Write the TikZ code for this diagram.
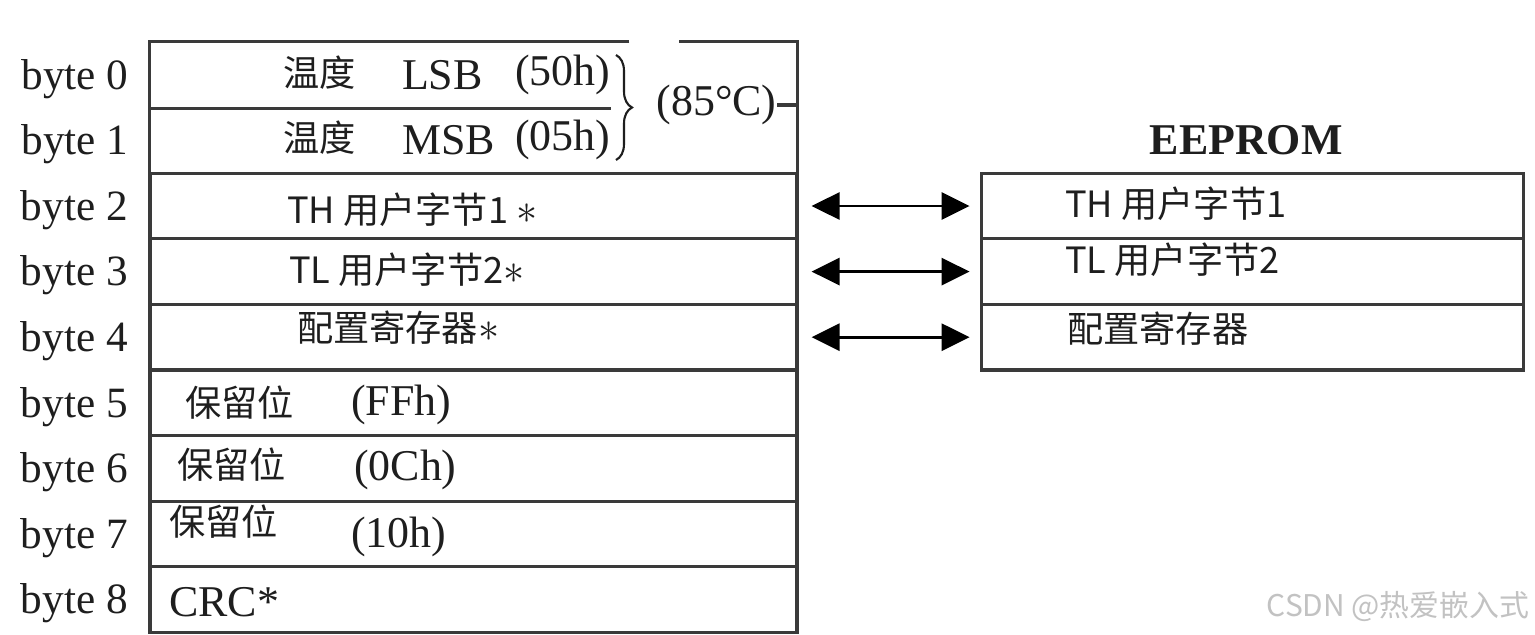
\documentclass[tikz,border=0pt]{standalone}
\usepackage{fontspec}
\setmainfont{Liberation Serif}
\newfontfamily\cjk{Noto Sans CJK SC}
\usetikzlibrary{arrows.meta,positioning,decorations.pathreplacing,calc}
\definecolor{rulegray}{HTML}{3A3A3A}
\definecolor{textdark}{HTML}{1E1E1E}
\definecolor{markgray}{HTML}{C2C2C2}
\tikzset{
  cell/.style={
    rectangle, draw=rulegray, line width=0.9pt,
    minimum width=6.47cm, minimum height=0.656cm, inner sep=0pt
  },
  opencell/.style={
    rectangle, minimum width=6.47cm, minimum height=0.656cm, inner sep=0pt
  },
  romcell/.style={cell, minimum width=5.42cm},
  rule/.style={draw=rulegray, line width=0.9pt},
  bytelab/.style={font=\fontsize{12.3}{14}\selectfont, text=textdark, inner sep=0pt, yshift=-0.04cm},
  serif/.style={font=\fontsize{12.5}{14}\selectfont, text=textdark, inner sep=0pt},
  cjktext/.style={font=\cjk\fontsize{10.3}{12}\selectfont, text=textdark, inner sep=0pt},
  title/.style={font=\bfseries\fontsize{12.5}{14}\selectfont, text=textdark, inner sep=0pt},
  link/.style={{Triangle[length=2.8mm,width=2.7mm]}-{Triangle[length=2.8mm,width=2.7mm]},
    line width=0.85pt, draw=black, shorten <=1.3mm, shorten >=1mm},
  wmark/.style={font=\cjk\fontsize{8.5}{10}\selectfont, text=markgray, inner sep=0pt}
}
\newcommand{\userflag}{{\fontsize{13}{14}\selectfont$\ast$}}

\begin{document}
\begin{tikzpicture}
\useasboundingbox[fill=white] (0,0) rectangle (15.35,-6.35);
% scratchpad rows
\node[opencell] (r0) at (4.735,-0.748) {};
\node[opencell] (r1) at (4.735,-1.404) {};
\node[cell] (r2) at (4.735,-2.060) {};
\node[cell] (r3) at (4.735,-2.716) {};
\node[cell] (r4) at (4.735,-3.372) {};
\node[cell] (r5) at (4.735,-4.028) {};
\node[cell] (r6) at (4.735,-4.684) {};
\node[cell] (r7) at (4.735,-5.340) {};
\node[cell] (r8) at (4.735,-5.996) {};
\draw[rule] ($(r0.north west)+(4.8,0)$) -- (r0.north west) -- (r1.south west) -- (r1.south east) -- (r0.north east) -- ($(r0.north east)+(-1.19,0)$);
\draw[rule] (r0.south west) -- ($(r0.south west)+(4.62,0)$);
% eeprom rows
\node[romcell, right=1.81cm of r2] (e2) {};
\node[romcell, right=1.81cm of r3] (e3) {};
\node[romcell, right=1.81cm of r4] (e4) {};
\node[title, above=0.16cm of e2.north, xshift=-0.06cm] (eeprom) {EEPROM};
% byte labels
\node[bytelab, left=0.2cm of r0.west] (b0) {byte 0};
\node[bytelab, left=0.2cm of r1.west] (b1) {byte 1};
\node[bytelab, left=0.2cm of r2.west] (b2) {byte 2};
\node[bytelab, left=0.2cm of r3.west] (b3) {byte 3};
\node[bytelab, left=0.2cm of r4.west] (b4) {byte 4};
\node[bytelab, left=0.2cm of r5.west] (b5) {byte 5};
\node[bytelab, left=0.2cm of r6.west] (b6) {byte 6};
\node[bytelab, left=0.2cm of r7.west] (b7) {byte 7};
\node[bytelab, left=0.2cm of r8.west] (b8) {byte 8};
% row contents
\node[cjktext, right=1.33cm of r0.west, yshift=0.02cm] (t0a) {温度};
\node[serif, right=2.52cm of r0.west] (t0b) {LSB};
\node[serif, right=3.65cm of r0.west] (t0c) {(50h)};
\node[cjktext, right=1.33cm of r1.west, yshift=0.03cm] (t1a) {温度};
\node[serif, right=2.52cm of r1.west] (t1b) {MSB};
\node[serif, right=3.65cm of r1.west] (t1c) {(05h)};
\node[cjktext, right=1.38cm of r2.west, yshift=-0.04cm] (t2) {TH 用户字节1 \userflag};
\node[cjktext, right=1.40cm of r3.west, yshift=0.02cm] (t3) {TL 用户字节2\userflag};
\node[cjktext, right=1.48cm of r4.west, yshift=0.10cm] (t4) {配置寄存器\userflag};
\node[cjktext, right=0.36cm of r5.west] (t5a) {保留位};
\node[serif, right=2.02cm of r5.west, yshift=-0.02cm] (t5b) {(FFh)};
\node[cjktext, right=0.28cm of r6.west, yshift=0.04cm] (t6a) {保留位};
\node[serif, right=2.05cm of r6.west, yshift=-0.02cm] (t6b) {(0Ch)};
\node[cjktext, right=0.20cm of r7.west, yshift=0.12cm] (t7a) {保留位};
\node[serif, right=2.02cm of r7.west, yshift=-0.03cm] (t7b) {(10h)};
\node[serif, right=0.20cm of r8.west, yshift=-0.03cm] (t8) {CRC*};
\node[cjktext, right=0.85cm of e2.west, yshift=0.02cm] (s2) {TH 用户字节1};
\node[cjktext, right=0.85cm of e3.west, yshift=0.12cm] (s3) {TL 用户字节2};
\node[cjktext, right=0.87cm of e4.west, yshift=0.09cm] (s4) {配置寄存器};
% temperature brace
\coordinate (bt) at (6.16,-0.55);
\coordinate (bb) at (6.16,-1.60);
\draw[line width=0.6pt, draw=textdark, decorate, decoration={brace, amplitude=0.16cm}] (bt) -- (bb);
\node[serif] (temp) at (7.165,-1.05) {(85°C)};
\draw[rule] (temp.east) -- (temp.east -| r0.east);
% scratchpad <-> eeprom
\draw[link] (r2) -- (e2);
\draw[link] (r3) -- (e3);
\draw[link] (r4) -- (e4);
\node[wmark, anchor=east] (csdn) at (15.30,-6.07) {CSDN @热爱嵌入式};
\end{tikzpicture}
\end{document}
